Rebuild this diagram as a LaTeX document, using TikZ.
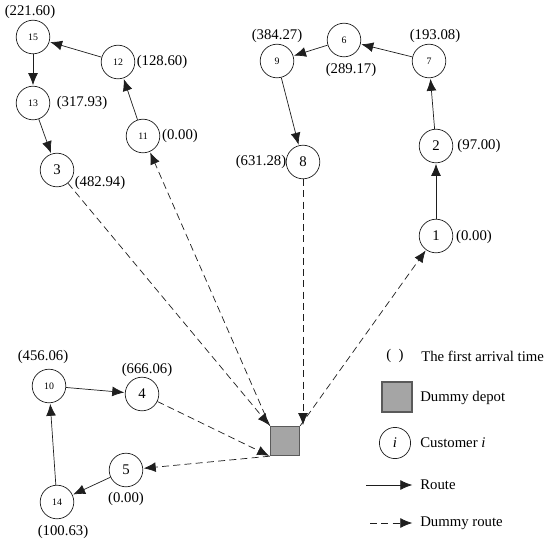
\documentclass[tikz,border=0pt]{standalone}
\usepackage{fontspec}
\setmainfont{Liberation Serif}
\usetikzlibrary{arrows.meta,positioning}
\definecolor{vrpLine}{RGB}{30,30,30}
\definecolor{vrpDepotFill}{RGB}{165,165,165}
\definecolor{vrpDepotDraw}{RGB}{90,90,90}
\tikzset{
    vrpCustomer/.style={
        circle,
        draw=vrpLine,
        line width=0.5pt,
        minimum size=0.84cm,
        inner sep=0pt,
        font=\fontsize{10.5}{12}\selectfont
    },
    vrpSmall/.style={vrpCustomer, font=\fontsize{7}{8}\selectfont},
    vrpDepot/.style={
        rectangle,
        draw=vrpDepotDraw,
        fill=vrpDepotFill,
        line width=0.8pt,
        minimum size=0.73cm,
        inner sep=0pt
    },
    vrpTime/.style={font=\fontsize{10.5}{12}\selectfont, inner sep=0pt},
    vrpText/.style={font=\fontsize{10.5}{12}\selectfont, inner sep=0pt, anchor=west},
    % Arrows
    vrpRoute/.style={-{Latex[length=8.5pt,width=7pt]}, line width=0.5pt, draw=vrpLine, shorten >=0.5pt},
    vrpDummy/.style={vrpRoute, dash pattern=on 5pt off 3pt}
}
\begin{document}
\begin{tikzpicture}[x=0.025cm, y=-0.025cm]
    \useasboundingbox (0,0) rectangle (550,547);
    % customers with two-digit ids
    \foreach \i/\px/\py in {15/33/37, 12/118/62, 13/33/103, 11/143/136,
                            9/277/61, 6/344/40, 7/429/61, 10/49/386, 14/57/502} {
        \node[vrpSmall] (c\i) at (\px,\py) {\i};
    }
    % customers with one-digit ids
    \foreach \i/\px/\py in {3/57/170, 8/303/162, 2/436/146, 1/436/236,
                            4/142/394, 5/126/470} {
        \node[vrpCustomer] (c\i) at (\px,\py) {\i};
    }
    \node[vrpDepot] (depot) at (285,441) {};

    % first arrival times
    \foreach \t/\px/\py in {221.60/30/12, 128.60/162/62, 317.93/82/103,
                            0.00/180/136, 482.94/100/183, 384.27/277/36,
                            289.17/351/70, 193.08/435/36, 97.00/479/146,
                            0.00/474/237, 631.28/261/162, 456.06/43/357,
                            666.06/147/370, 0.00/126/499, 100.63/63/532} {
        \node[vrpTime] at (\px,\py) {(\t)};
    }

    % routes
    \draw[vrpRoute] (c11) -- (c12);
    \draw[vrpRoute] (c12) -- (c15);
    \draw[vrpRoute] (c15) -- (c13);
    \draw[vrpRoute] (c13) -- (c3);
    \draw[vrpRoute] (c1) -- (c2);
    \draw[vrpRoute] (c2) -- (c7);
    \draw[vrpRoute] (c7) -- (c6);
    \draw[vrpRoute] (c6) -- (c9);
    \draw[vrpRoute] (c9) -- (c8);
    \draw[vrpRoute] (c5) -- (c14);
    \draw[vrpRoute] (c14) -- (c10);
    \draw[vrpRoute] (c10) -- (c4);

    % dummy routes
    \draw[vrpDummy] (depot.north west) -- (c11);
    \draw[vrpDummy] (c3) -- (depot.north west);
    \draw[vrpDummy] (c8.south) -- (c8.south |- depot.north);
    \draw[vrpDummy] (depot.north east) -- (c1);
    \draw[vrpDummy] (c4) -- (depot.south west);
    \draw[vrpDummy] (depot.south west) -- (c5);

    % legend
    \node[vrpTime] (legTime) at (395,356) {(\ \ )};
    \node[vrpText] at (421,356) {The first arrival time};
    \node[vrpDepot, minimum size=0.75cm] (legDepot) at (397,397) {};
    \node[vrpText] at (420,398) {Dummy depot};
    \node[vrpCustomer, minimum size=0.78cm] (legCustomer) at (395,443) {\textit{i}};
    \node[vrpText] at (420,443) {Customer \textit{i}};
    \coordinate (legRouteA) at (366,485);
    \coordinate (legRouteB) at (413,485);
    \draw[vrpRoute] (legRouteA) -- (legRouteB);
    \node[vrpText] at (420,485) {Route};
    \coordinate (legDummyA) at (370,523);
    \coordinate (legDummyB) at (413,523);
    \draw[vrpDummy] (legDummyA) -- (legDummyB);
    \node[vrpText] at (420,523) {Dummy route};
\end{tikzpicture}
\end{document}
